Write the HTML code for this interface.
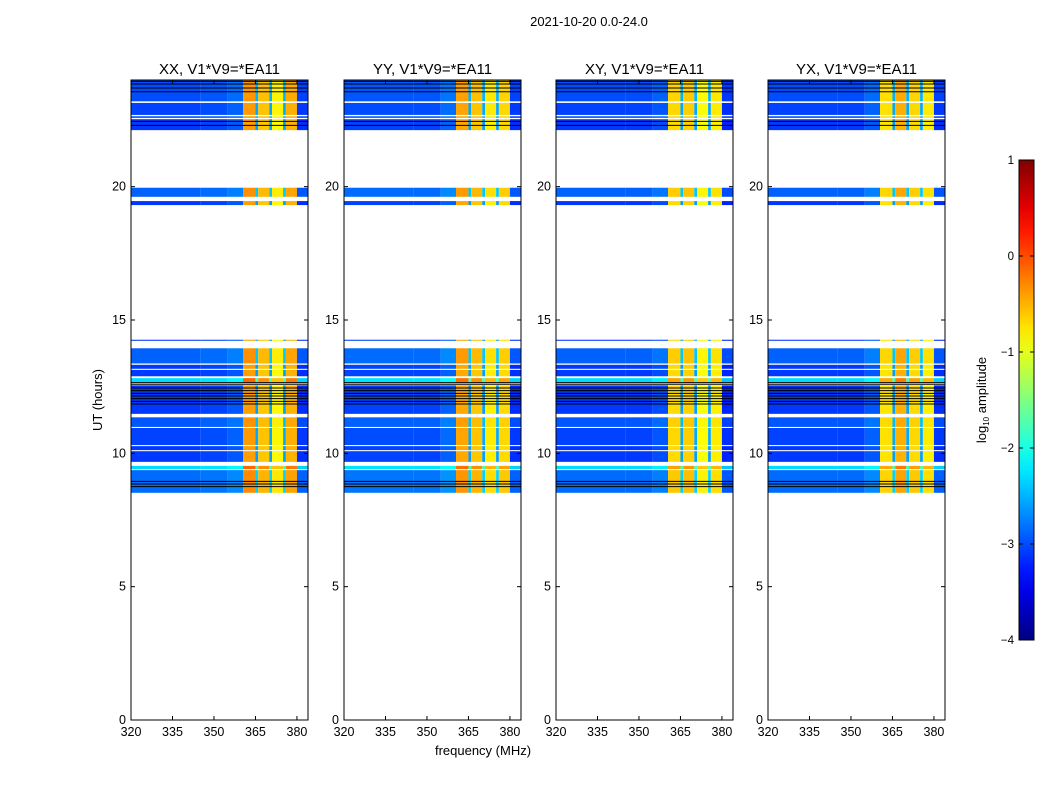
<!DOCTYPE html>
<html><head><meta charset="utf-8"><style>
body{margin:0;background:#fff;}
svg{display:block;font-family:"Liberation Sans","DejaVu Sans",sans-serif;}
</style></head><body>
<svg id="fig" width="1050" height="800" viewBox="0 0 1050 800" xmlns="http://www.w3.org/2000/svg">
<text x="589" y="26" font-size="13" text-anchor="middle">2021-10-20 0.0-24.0</text>
<text x="483" y="755" font-size="13" text-anchor="middle">frequency (MHz)</text>
<text x="102" y="400" font-size="13" text-anchor="middle" transform="rotate(-90 102 400)">UT (hours)</text>
<g id="panels"></g>
<g id="cbar"></g>
</svg>
<script>
// ---- data ----
const panelTitles = ["XX, V1*V9=*EA11","YY, V1*V9=*EA11","XY, V1*V9=*EA11","YX, V1*V9=*EA11"];
const freqEdges = [320,345,355,360.5,365,366,370,371,375,376,380,384];
const specXX = [-3.1,-3.05,-2.95,-0.4,-2.6,-0.6,-2.6,-0.85,-2.6,-0.5,-3.15];
const specYY = [-3.05,-3.05,-2.9,-0.45,-2.6,-0.6,-2.6,-0.8,-2.6,-0.7,-3.15];
const specXY = [-3.1,-3.1,-3.0,-0.7,-2.6,-0.65,-2.6,-0.9,-2.6,-0.8,-3.2];
const specYX = [-3.1,-3.1,-2.95,-0.75,-2.6,-0.5,-2.6,-0.7,-2.6,-0.8,-3.15];
const spectra = [specXX,specYY,specXY,specYX];
const segStart = [8.52,9.41,9.68,10.12,10.31,10.99,11.48,12.67,12.89,13.17,13.37,14.22,19.31,19.62,22.12,22.58,22.69,23.2];
const segEnd   = [9.37,9.53,10.08,10.27,10.95,11.35,12.55,12.82,13.13,13.32,13.94,14.26,19.46,19.96,22.53,22.64,23.14,24.0];
const segOffset= [0.25,0.8,0.0,0.0,0.05,0.15,0.0,0.8,0.0,0.0,0.2,0.0,0.0,0.2,0.0,0.1,0.05,0.1];
const blackLines = [8.75,8.85,8.95,11.85,11.95,12.05,12.15,12.25,12.35,12.45,12.59,12.65,22.3,22.45,23.56,23.7,23.85,23.95];
const yTicks = [0,5,10,15,20];
const xTicks = [320,335,350,365,380];
const cbTicks = [-4,-3,-2,-1,0,1];
// ---- layout ----
const NS="http://www.w3.org/2000/svg";
const axLeft=[131,344,556,768], axW=177, axTop=80, axBot=720;
const fMin=320,fMax=384,tMin=0,tMax=24,vMin=-4,vMax=1;
function el(tag,attrs,parent){const e=document.createElementNS(NS,tag);for(const k in attrs)e.setAttribute(k,attrs[k]);parent.appendChild(e);return e;}
function jet(v){let t=(v-vMin)/(vMax-vMin);t=Math.max(0,Math.min(1,t));
 const c=x=>Math.round(255*Math.max(0,Math.min(1,x)));
 return `rgb(${c(1.5-Math.abs(4*t-3))},${c(1.5-Math.abs(4*t-2))},${c(1.5-Math.abs(4*t-1))})`;}
const ty=t=>axBot-(t-tMin)/(tMax-tMin)*(axBot-axTop);
const panelsG=document.getElementById('panels');
for(let p=0;p<4;p++){
 const x0=axLeft[p];const fx=f=>x0+(f-fMin)/(fMax-fMin)*axW;
 const g=el('g',{},panelsG);
 
 
 const tt=el('text',{x:x0+axW/2,y:74,'font-size':15,'text-anchor':'middle'},g);tt.textContent=panelTitles[p];
 
 
 for(let s=0;s<segStart.length;s++){
  for(let c=0;c<freqEdges.length-1;c++){
   let base=spectra[p][c];
   let v=base+segOffset[s]*(base<-2?1:0.35);
   const xa=fx(freqEdges[c]),xb=fx(freqEdges[c+1]),ya=ty(segEnd[s]),yb=ty(segStart[s]);
   const r=el('rect',{x:xa.toFixed(2),y:ya.toFixed(2),width:(xb-xa).toFixed(2),height:(yb-ya).toFixed(2),fill:jet(v)},g);
   
   
  }
 }
 for(const b of blackLines){
  const l=el('line',{x1:x0,x2:x0+axW,y1:ty(b),y2:ty(b),stroke:'#000','stroke-width':1},g);
  
  
 }
 const fr=el('rect',{x:x0,y:axTop,width:axW,height:axBot-axTop,fill:'none',stroke:'#000','stroke-width':1},g);
 
 
 for(const t of yTicks){const y=ty(t);
  el('line',{x1:x0,x2:x0+4,y1:y,y2:y,stroke:'#000'},g);el('line',{x1:x0+axW-4,x2:x0+axW,y1:y,y2:y,stroke:'#000'},g);
  const lb=el('text',{x:x0-5,y:y+4,'font-size':12.5,'text-anchor':'end'},g);lb.textContent=t;
  
  
 }
 for(const f of xTicks){const x=fx(f);
  el('line',{x1:x,x2:x,y1:axBot,y2:axBot-4,stroke:'#000'},g);el('line',{x1:x,x2:x,y1:axTop,y2:axTop+4,stroke:'#000'},g);
  const lb=el('text',{x:x,y:axBot+16,'font-size':12.5,'text-anchor':'middle'},g);lb.textContent=f;
  
  
 }
}
// colorbar
const cb=document.getElementById('cbar');const cbX=1019,cbW=15,cbT=160,cbB=640;
const cv=v=>cbB-(v-vMin)/(vMax-vMin)*(cbB-cbT);
const defs=el('defs',{},cb);const grad=el('linearGradient',{id:'jetg',x1:0,y1:1,x2:0,y2:0},defs);
for(let i=0;i<=20;i++){const v=vMin+i/20*(vMax-vMin);el('stop',{offset:i/20,'stop-color':jet(v)},grad);}
const cr=el('rect',{x:cbX,y:cbT,width:cbW,height:cbB-cbT,fill:'url(#jetg)',stroke:'#000','stroke-width':1},cb);


for(const t of cbTicks){const y=cv(t);
 el('line',{x1:cbX,x2:cbX+4,y1:y,y2:y,stroke:'#000'},cb);el('line',{x1:cbX+cbW-4,x2:cbX+cbW,y1:y,y2:y,stroke:'#000'},cb);
 const lb=el('text',{x:cbX-5,y:y+4,'font-size':11.5,'text-anchor':'end'},cb);lb.textContent=(t<0?'\u2212':'')+Math.abs(t);
 
 
}
const cl=el('text',{x:986,y:400,'font-size':13,'text-anchor':'middle',transform:'rotate(-90 986 400)'},cb);


cl.innerHTML='log<tspan font-size="8" dy="3">10</tspan><tspan dy="-3"> amplitude</tspan>';
</script>
</body></html>
